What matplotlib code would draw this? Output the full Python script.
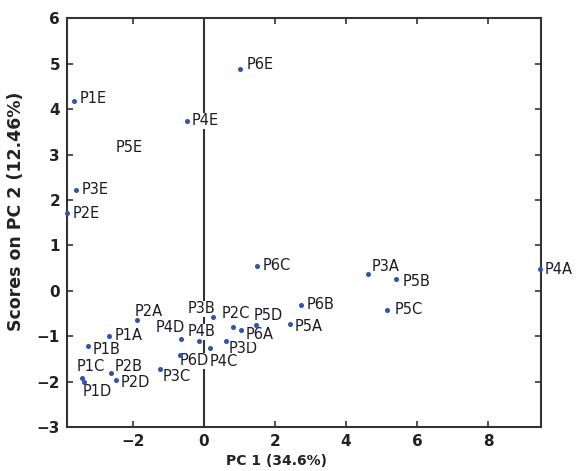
import matplotlib
matplotlib.use("Agg")
import matplotlib.pyplot as plt

# ---- data ----
labels = ["P1A", "P1B", "P1C", "P1D", "P1E",
          "P2A", "P2B", "P2C", "P2D", "P2E",
          "P3A", "P3B", "P3C", "P3D", "P3E",
          "P4A", "P4B", "P4C", "P4D", "P4E",
          "P5A", "P5B", "P5C", "P5D", "P5E",
          "P6A", "P6B", "P6C", "P6D", "P6E"]
pc1 = [-2.69, -3.26, -3.45, -3.38, -3.66,
       -1.90, -2.63, 0.82, -2.47, -3.85,
       4.62, 0.25, -1.25, 0.63, -3.61,
       9.46, -0.15, 0.18, -0.64, -0.47,
       2.41, 5.42, 5.14, 1.46, -2.63,
       1.03, 2.74, 1.49, -0.68, 1.01]
pc2 = [-0.99, -1.22, -1.92, -2.00, 4.18,
       -0.65, -1.80, -0.79, -1.97, 1.72,
       0.36, -0.57, -1.72, -1.10, 2.22,
       0.48, -1.11, -1.25, -1.07, 3.74,
       -0.74, 0.25, -0.43, -0.76, 3.12,
       -0.87, -0.31, 0.55, -1.42, 4.88]
# P5E is shown only by its label in the reference
show_marker = [lbl != "P5E" for lbl in labels]

xticks = [-2, 0, 2, 4, 6, 8]
yticks = [-3, -2, -1, 0, 1, 2, 3, 4, 5, 6]
xlabel = "PC 1 (34.6%)"
ylabel = "Scores on PC 2 (12.46%)"

# label offsets (pixels: right, up) from the point
offsets_px = {
    "P1A": (6.3, 0.7), "P1B": (4.6, -3.3), "P1C": (-5.3, 11), "P1D": (-1, -10),
    "P1E": (5.7, 2.7), "P2A": (-1.7, 9), "P2B": (4, 5.6), "P2C": (-11.6, 13.4),
    "P2D": (4, -2.7), "P2E": (5.7, -0.6), "P3A": (3.4, 7.6), "P3B": (-25, 7.7),
    "P3C": (3.3, -7.7), "P3D": (2.6, -7.5), "P3E": (5.7, 0.7), "P4A": (5, -0.6),
    "P4B": (-10.7, 9.3), "P4C": (-0.7, -14.2), "P4D": (-25.7, 11.6), "P4E": (4.6, 0),
    "P5A": (5, -2.4), "P5B": (6, -1.7), "P5C": (7.6, 0.7), "P5D": (-2.7, 10),
    "P5E": (5, 1.3), "P6A": (5.3, -3.8), "P6B": (5, 0), "P6C": (5.4, 0.7),
    "P6D": (0, -5.7), "P6E": (6.7, 4.3),
}

DPI = 100
fig = plt.figure(figsize=(5.76, 4.71), dpi=DPI)
W, H = 576, 471
left, right, bottom, top = 67, 541, 427, 18.3
ax = fig.add_axes([left / W, 1 - bottom / H, (right - left) / W, (bottom - top) / H])

spine_c = "#333333"
ax.axvline(0, color=spine_c, lw=1.5, zorder=1)

xs = [x for x, s in zip(pc1, show_marker) if s]
ys = [y for y, s in zip(pc2, show_marker) if s]
ax.plot(xs, ys, linestyle="none", marker="o", ms=2.6, color="#2f52b5",
        mec="#2f52b5", zorder=4, clip_on=False)

px2pt = 72.0 / DPI
for lbl, x, y in zip(labels, pc1, pc2):
    dx, dy = offsets_px[lbl]
    ax.annotate(lbl, (x, y), xytext=(dx * px2pt, dy * px2pt), textcoords="offset points",
                ha="left", va="center", fontsize=10.5, color="#1c1c28",
                family="DejaVu Sans",
                bbox=dict(facecolor="white", edgecolor="none", pad=0.2), zorder=3,
                annotation_clip=False)

ax.set_xlim(-3.86, 9.49)
ax.set_ylim(-3, 6)
ax.set_xticks(xticks)
ax.set_yticks(yticks)
ax.tick_params(direction="in", top=True, right=True, length=4, width=1.2,
               color=spine_c, labelsize=11, pad=5)
for t in ax.get_xticklabels() + ax.get_yticklabels():
    t.set_fontweight("bold")
    t.set_color("#222222")
for s in ax.spines.values():
    s.set_color(spine_c)
    s.set_linewidth(1.5)

ax.set_xlabel(xlabel, fontsize=10, fontweight="bold", color="#222222")
ax.xaxis.set_label_coords((276.5 - left) / (right - left), -0.066)
ax.set_ylabel(ylabel, fontsize=12.5, fontweight="bold", color="#222222")
ax.yaxis.set_label_coords(-(left - 25) / (right - left), (bottom - 211) / (bottom - top))

fig.savefig("out.png", dpi=DPI)
